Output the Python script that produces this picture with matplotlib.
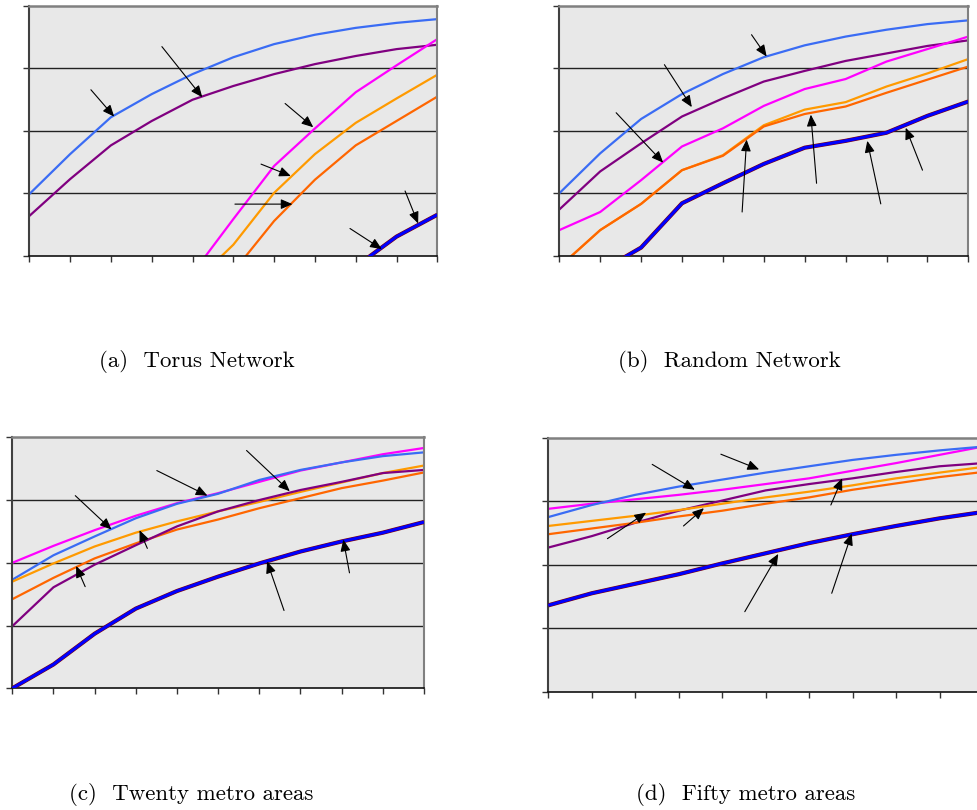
import numpy as np
import matplotlib.pyplot as plt

# x positions (11 points per curve)
x = np.arange(11)

colors = {
    'lblue': '#3a6cf4',
    'purple': '#800080',
    'magenta': '#ff00ff',
    'lorange': '#ff9a00',
    'dorange': '#ff6600',
    'dred': '#800000',
    'blue': '#0000ff',
}

nan = np.nan

# === (a) Torus Network ===
a_lblue = [0.99, 1.63, 2.22, 2.59, 2.91, 3.18, 3.39, 3.54, 3.65, 3.73, 3.79]
a_purple = [0.64, 1.23, 1.77, 2.16, 2.50, 2.72, 2.91, 3.07, 3.20, 3.31, 3.38]
a_magenta = [nan, nan, nan, nan, -0.28, 0.59, 1.44, 2.04, 2.62, 3.05, 3.47]
a_lorange = [nan, nan, nan, nan, -0.45, 0.18, 1.01, 1.63, 2.13, 2.52, 2.90]
a_dorange = [nan, nan, nan, nan, nan, -0.25, 0.56, 1.22, 1.77, 2.16, 2.55]
a_blue = [nan, nan, nan, nan, nan, nan, nan, nan, -0.17, 0.31, 0.66]
a_arrows = [((1.51, 2.66), (2.08, 2.23)), ((3.25, 3.35), (4.24, 2.54)),
            ((6.27, 2.44), (6.96, 2.06)), ((5.68, 1.47), (6.41, 1.28)),
            ((5.04, 0.83), (6.45, 0.83)), ((7.86, 0.44), (8.64, 0.11)),
            ((9.21, 1.04), (9.53, 0.52))]

# === (b) Random Network ===
b_lblue = [1.00, 1.64, 2.19, 2.59, 2.91, 3.18, 3.37, 3.51, 3.62, 3.71, 3.77]
b_purple = [0.74, 1.35, 1.80, 2.23, 2.52, 2.79, 2.96, 3.12, 3.24, 3.36, 3.45]
b_magenta = [0.41, 0.70, 1.21, 1.75, 2.04, 2.40, 2.67, 2.83, 3.11, 3.31, 3.51]
b_lorange = [-0.18, 0.41, 0.83, 1.37, 1.61, 2.09, 2.34, 2.46, 2.71, 2.92, 3.15]
b_dorange = [-0.18, 0.41, 0.83, 1.37, 1.60, 2.07, 2.27, 2.39, 2.61, 2.82, 3.03]
b_blue = [nan, -0.25, 0.13, 0.84, 1.16, 1.47, 1.73, 1.84, 1.97, 2.24, 2.47]
b_arrows = [((4.70, 3.54), (5.07, 3.19)), ((2.57, 3.06), (3.24, 2.38)),
            ((1.39, 2.29), (2.54, 1.49)), ((4.47, 0.70), (4.58, 1.86)),
            ((6.29, 1.16), (6.15, 2.26)), ((7.86, 0.83), (7.53, 1.84)),
            ((8.88, 1.37), (8.47, 2.05))]

# === (c) Twenty metro areas ===
c_magenta = [2.00, 2.27, 2.52, 2.75, 2.95, 3.11, 3.29, 3.47, 3.60, 3.73, 3.83]
c_lblue = [1.73, 2.12, 2.42, 2.71, 2.94, 3.10, 3.32, 3.48, 3.60, 3.70, 3.76]
c_lorange = [1.70, 1.99, 2.26, 2.48, 2.66, 2.82, 2.97, 3.13, 3.28, 3.43, 3.55]
c_dorange = [1.42, 1.76, 2.07, 2.31, 2.53, 2.69, 2.87, 3.03, 3.19, 3.31, 3.44]
c_purple = [0.99, 1.61, 1.97, 2.28, 2.58, 2.82, 3.00, 3.16, 3.29, 3.43, 3.48]
c_blue = [0.00, 0.38, 0.87, 1.27, 1.55, 1.78, 1.99, 2.18, 2.34, 2.48, 2.65]
c_arrows = [((1.53, 3.07), (2.41, 2.53)), ((3.51, 3.47), (4.74, 3.07)),
            ((5.69, 3.79), (6.74, 3.14)), ((3.28, 2.23), (3.09, 2.52)),
            ((1.77, 1.62), (1.55, 1.95)), ((6.60, 1.24), (6.19, 2.02)),
            ((8.19, 1.84), (8.04, 2.37))]

# === (d) Fifty metro areas ===
d_lblue = [2.75, 2.94, 3.10, 3.23, 3.34, 3.45, 3.55, 3.65, 3.73, 3.80, 3.86]
d_magenta = [2.88, 2.96, 3.03, 3.10, 3.18, 3.27, 3.36, 3.48, 3.60, 3.73, 3.86]
d_purple = [2.27, 2.45, 2.66, 2.85, 3.01, 3.17, 3.27, 3.36, 3.46, 3.55, 3.60]
d_lorange = [2.61, 2.69, 2.77, 2.86, 2.96, 3.06, 3.15, 3.25, 3.36, 3.45, 3.54]
d_dorange = [2.48, 2.57, 2.66, 2.76, 2.85, 2.96, 3.06, 3.18, 3.28, 3.38, 3.46]
d_blue = [1.36, 1.55, 1.70, 1.85, 2.02, 2.18, 2.34, 2.48, 2.61, 2.73, 2.83]
d_arrows = [((3.97, 3.74), (4.85, 3.50)), ((2.39, 3.58), (3.37, 3.18)),
            ((6.50, 2.94), (6.76, 3.36)), ((1.36, 2.41), (2.25, 2.82)),
            ((3.11, 2.61), (3.58, 2.89)), ((4.52, 1.26), (5.29, 2.17)),
            ((6.52, 1.55), (6.98, 2.49))]

captions = ['(a)  Torus Network', '(b)  Random Network',
            '(c)  Twenty metro areas', '(d)  Fifty metro areas']

panels = [
    dict(series=[('lblue', a_lblue), ('purple', a_purple), ('magenta', a_magenta),
                 ('lorange', a_lorange), ('dorange', a_dorange), ('blue', a_blue)],
         arrows=a_arrows),
    dict(series=[('lblue', b_lblue), ('purple', b_purple), ('magenta', b_magenta),
                 ('lorange', b_lorange), ('dorange', b_dorange), ('blue', b_blue)],
         arrows=b_arrows),
    dict(series=[('magenta', c_magenta), ('lblue', c_lblue), ('lorange', c_lorange),
                 ('dorange', c_dorange), ('purple', c_purple), ('blue', c_blue)],
         arrows=c_arrows),
    dict(series=[('magenta', d_magenta), ('lblue', d_lblue), ('purple', d_purple),
                 ('lorange', d_lorange), ('dorange', d_dorange), ('blue', d_blue)],
         arrows=d_arrows),
]

W, H = 977, 810
fig = plt.figure(figsize=(W / 100, H / 100), dpi=100)

# axes boxes in pixels: left, top, right, bottom
boxes = [(29.3, 6, 437.3, 256), (559.3, 6, 968.3, 255.7),
         (12.3, 437.3, 424, 688.3), (548.3, 437.7, 983, 691.7)]
cap_pos = [(197, 362), (729, 362), (191, 795), (746, 795)]

for box, panel, cap, cpos in zip(boxes, panels, captions, cap_pos):
    l, t, r, b = box
    ax = fig.add_axes([l / W, 1 - b / H, (r - l) / W, (b - t) / H])
    ax.set_facecolor('#e8e8e8')
    ax.set_xlim(0, 10)
    ax.set_ylim(0, 4)
    for yv in [1, 2, 3]:
        ax.axhline(yv, color='#222222', lw=1.0, zorder=1)
    for name, vals in panel['series']:
        if name == 'blue':
            ax.plot(x, vals, color=colors['dred'], lw=3.0, zorder=3,
                    solid_capstyle='butt')
            ax.plot(x, vals, color=colors['blue'], lw=2.2, zorder=4,
                    solid_capstyle='butt')
        else:
            ax.plot(x, vals, color=colors[name], lw=1.6, zorder=2)
    for tail, head in panel['arrows']:
        ax.annotate('', xy=head, xytext=tail,
                    arrowprops=dict(arrowstyle='-|>,head_length=0.7,head_width=0.3',
                                    color='black', lw=0.8, shrinkA=0, shrinkB=0),
                    zorder=5)
    ax.set_xticks(np.arange(11))
    ax.set_yticks(np.arange(5))
    ax.set_xticklabels([])
    ax.set_yticklabels([])
    ax.tick_params(direction='out', length=4, width=1, color='#333333')
    ax.spines['left'].set_color('#404040')
    ax.spines['left'].set_linewidth(1.5)
    ax.spines['bottom'].set_color('#111111')
    ax.spines['bottom'].set_linewidth(1.2)
    ax.spines['top'].set_color('#808080')
    ax.spines['top'].set_linewidth(1.8)
    ax.spines['right'].set_color('#808080')
    ax.spines['right'].set_linewidth(1.5)
    fig.text(cpos[0] / W, 1 - cpos[1] / H, cap, family='cmr10', fontsize=16.5,
             ha='center', va='center')

fig.savefig('out.png', dpi=100)
